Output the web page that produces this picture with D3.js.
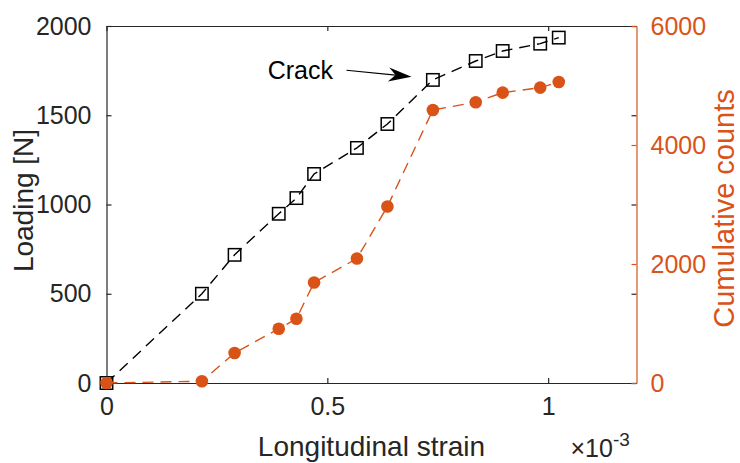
<!DOCTYPE html>
<html>
<head>
<meta charset="utf-8">
<script src="https://d3js.org/d3.v7.min.js"></script>
<style>
  body { margin: 0; background: #fff; }
  svg { display: block; font-family: "Liberation Sans", Arial, sans-serif; }
  .dark { fill: #262626; }
</style>
</head>
<body>
<svg id="canvas" width="740" height="463"></svg>
<script>
  // strain values in units of 1e-3
  const strain = [0, 0.216, 0.29, 0.39, 0.43, 0.47, 0.567, 0.636, 0.739, 0.836, 0.897, 0.982, 1.024];
  const loading = [0, 500, 718, 948, 1036, 1171, 1317, 1451, 1698, 1804, 1860, 1901, 1935];
  const counts = [0, 30, 504, 912, 1080, 1689, 2092, 2966, 4589, 4719, 4880, 4964, 5060];
  const xTicks = [0, 0.5, 1];
  const yLeftTicks = [0, 500, 1000, 1500, 2000];
  const yRightTicks = [0, 2000, 4000, 6000];
  const crackLabel = { x: 0.365, y: 1703, text: "Crack" };
  const crackArrow = { x1: 0.5434, y1: 1752, x2: 0.6905, y2: 1716 };

  const ink = "#262626";
  const orange = "#D95319";
  const margin = { left: 106.5, top: 26, right: 103.5, bottom: 80 };
  const W = 740, H = 463;
  const w = W - margin.left - margin.right;
  const h = H - margin.top - margin.bottom;

  const svg = d3.select("#canvas");
  const g = svg.append("g").attr("transform", `translate(${margin.left},${margin.top})`);

  const x = d3.scaleLinear().domain([0, 1.2]).range([0, w]);
  const yL = d3.scaleLinear().domain([0, 2000]).range([h, 0]);
  const yR = d3.scaleLinear().domain([0, 6000]).range([h, 0]);

  function styleAxis(sel, color, fontSize) {
    sel.select(".domain").attr("stroke", color).attr("stroke-width", 1.2);
    sel.selectAll(".tick line").attr("stroke", color).attr("stroke-width", 1.2);
    sel.selectAll(".tick text").attr("fill", color)
      .style("font-size", fontSize + "px");
  }

  // bottom axis
  const bottomAx = g.append("g").attr("transform", `translate(0,${h})`)
    .call(d3.axisBottom(x).tickValues(xTicks).tickFormat(d => String(d)).tickSizeInner(-5).tickSizeOuter(0).tickPadding(14));
  styleAxis(bottomAx, ink, 25);

  // top axis (box)
  const topAx = g.append("g")
    .call(d3.axisTop(x).tickValues(xTicks).tickFormat("").tickSizeInner(-5).tickSizeOuter(0));
  styleAxis(topAx, ink, 25);

  // left axis
  const leftAx = g.append("g")
    .call(d3.axisLeft(yL).tickValues(yLeftTicks).tickFormat(d3.format("d")).tickSizeInner(-5).tickSizeOuter(0).tickPadding(15));
  styleAxis(leftAx, ink, 25);

  // left ticks mirrored on right side
  const leftMirror = g.append("g").attr("transform", `translate(${w},0)`)
    .call(d3.axisRight(yL).tickValues(yLeftTicks).tickFormat("").tickSizeInner(-5).tickSizeOuter(0));
  styleAxis(leftMirror, ink, 25);
  leftMirror.select(".domain").remove();

  // right axis
  const rightAx = g.append("g").attr("transform", `translate(${w},0)`)
    .call(d3.axisRight(yR).tickValues(yRightTicks).tickFormat(d3.format("d")).tickSizeInner(-5).tickSizeOuter(0).tickPadding(14));
  styleAxis(rightAx, orange, 25);

  // axis labels
  g.append("text").attr("x", w / 2).attr("y", h + 73)
    .attr("text-anchor", "middle").attr("class", "dark")
    .style("font-size", "28px").text("Longitudinal strain");

  g.append("text").attr("transform", `translate(${33 - margin.left},${h / 2 - 4}) rotate(-90)`)
    .attr("text-anchor", "middle").attr("class", "dark")
    .style("font-size", "28px").text("Loading [N]");

  g.append("text").attr("transform", `translate(${734 - margin.left},${h / 2 + 4}) rotate(-90)`)
    .attr("text-anchor", "middle").attr("fill", orange)
    .style("font-size", "29px").text("Cumulative counts");

  // exponent
  const expo = g.append("text").attr("x", w - 66).attr("y", h + 74)
    .attr("class", "dark").style("font-size", "25px");
  expo.append("tspan").text("\u00d710");
  expo.append("tspan").attr("dy", -11).style("font-size", "19px").text("-3");

  // loading series
  const lineL = d3.line().x((d, i) => x(strain[i])).y(d => yL(d));
  g.append("path").datum(loading)
    .attr("d", lineL).attr("fill", "none").attr("stroke", "#000")
    .attr("stroke-width", 1.4).attr("stroke-dasharray", "11,7");
  g.selectAll(".sq").data(loading).enter().append("rect")
    .attr("x", (d, i) => x(strain[i]) - 6.2).attr("y", d => yL(d) - 6.2)
    .attr("width", 12.4).attr("height", 12.4)
    .attr("fill", "none").attr("stroke", "#000").attr("stroke-width", 1.5);

  // counts series
  const lineR = d3.line().x((d, i) => x(strain[i])).y(d => yR(d));
  g.append("path").datum(counts)
    .attr("d", lineR).attr("fill", "none").attr("stroke", orange)
    .attr("stroke-width", 1.4).attr("stroke-dasharray", "11,7");
  g.selectAll(".dot").data(counts).enter().append("circle")
    .attr("cx", (d, i) => x(strain[i])).attr("cy", d => yR(d))
    .attr("r", 6.3).attr("fill", orange);

  // annotation
  g.append("text").attr("x", x(crackLabel.x)).attr("y", yL(crackLabel.y))
    .attr("fill", "#000").style("font-size", "25px").text(crackLabel.text);

  const ax1 = x(crackArrow.x1), ay1 = yL(crackArrow.y1);
  const ax2 = x(crackArrow.x2), ay2 = yL(crackArrow.y2);
  const ang = Math.atan2(ay2 - ay1, ax2 - ax1);
  const headLen = 23, headW = 7, notch = 16;
  g.append("line").attr("x1", ax1).attr("y1", ay1)
    .attr("x2", ax2 - Math.cos(ang) * notch).attr("y2", ay2 - Math.sin(ang) * notch)
    .attr("stroke", "#000").attr("stroke-width", 1.2);
  const ca = Math.cos(ang), sa = Math.sin(ang);
  const pt = (along, side) => [ax2 - ca * along - sa * side, ay2 - sa * along + ca * side];
  const head = [pt(0, 0), pt(headLen, headW), pt(notch, 0), pt(headLen, -headW)];
  g.append("path").attr("d", "M" + head.map(p => p.join(",")).join("L") + "Z")
    .attr("fill", "#000");
</script>
</body>
</html>
